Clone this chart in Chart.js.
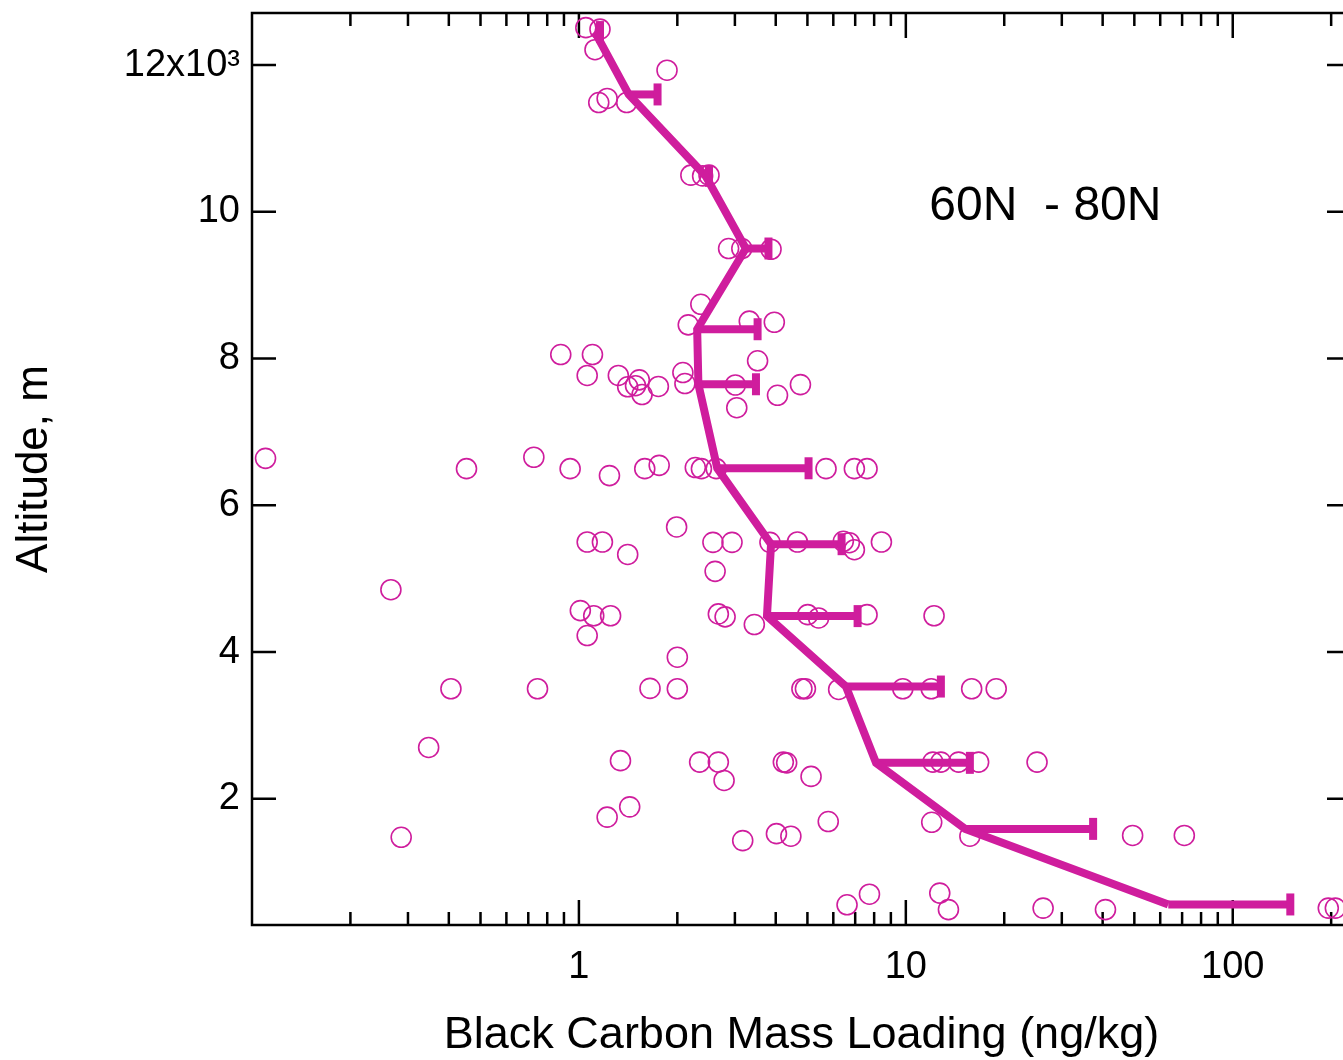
<!DOCTYPE html>
<html>
<head>
<meta charset="utf-8">
<title>Black Carbon 60N - 80N</title>
<script src="https://cdn.jsdelivr.net/npm/chart.js@4.4.1/dist/chart.umd.min.js"></script>
<style>
    html, body { margin: 0; padding: 0; background: #fff; overflow: hidden; }
    #wrap { width: 1365px; height: 1060px; }
</style>
</head>
<body>
<div id="wrap"><canvas id="grafico" width="1365" height="1060"></canvas></div>
<script>
// Individual samples: BC mass loading (ng/kg) and altitude (m)
const sampleBC = [
    1.05, 1.16, 1.12, 1.86, 1.15, 1.22, 1.40, 2.20, 2.39, 2.50, 2.87, 3.15, 3.87,
    2.36, 2.16, 3.32, 3.96, 3.52, 2.08, 2.11, 3.01, 4.05, 4.76, 3.04, 0.88, 1.10, 1.06, 1.32, 1.41, 1.49, 1.53, 1.56, 1.75,
    0.110, 0.453, 0.728, 0.94, 1.24, 1.59, 1.76, 2.27, 2.37, 2.63, 5.70, 6.96, 7.61,
    1.99, 1.06, 1.18, 1.41, 2.57, 2.94, 3.84, 4.66, 6.44, 6.72, 6.96, 8.42, 2.61,
    0.266, 1.01, 1.11, 1.25, 1.06, 2.67, 2.80, 3.44, 5.01, 5.41, 7.61, 12.2,
    2.00, 0.406, 0.747, 1.65, 2.00, 4.81, 4.93, 6.23, 9.79, 11.96, 15.9, 18.9,
    0.347, 1.34, 2.34, 2.67, 2.78, 4.22, 4.32, 5.13, 12.1, 12.8, 14.5, 16.7, 25.2,
    1.43, 1.22, 0.286, 3.17, 4.02, 4.45, 5.79, 12.0, 15.7, 49.4, 71.1,
    6.61, 7.74, 12.7, 13.5, 26.3, 40.8, 196, 206
];
const sampleAlt = [
    12510, 12490, 12210, 11930, 11490, 11545, 11490, 10500, 10490, 10500, 9500, 9500, 9490,
    8740, 8460, 8510, 8495, 7970, 7810, 7660, 7640, 7500, 7645, 7330, 8055, 8055, 7770, 7770, 7615, 7630, 7710, 7510, 7620,
    6640, 6500, 6655, 6500, 6405, 6500, 6545, 6515, 6500, 6500, 6500, 6500, 6500,
    5705, 5500, 5500, 5330, 5495, 5495, 5495, 5500, 5510, 5490, 5395, 5500, 5100,
    4850, 4565, 4495, 4495, 4225, 4520, 4480, 4375, 4510, 4465, 4510, 4495,
    3930, 3500, 3500, 3505, 3500, 3500, 3500, 3490, 3500, 3500, 3500, 3500,
    2700, 2520, 2500, 2500, 2250, 2500, 2490, 2305, 2500, 2500, 2500, 2500, 2500,
    1890, 1750, 1475, 1430, 1525, 1490, 1690, 1680, 1490, 1500, 1500,
    555, 700, 715, 490, 510, 490, 510, 510
];

// Mean profile per altitude bin, with upper end of the spread
const profileAlt   = [12450, 11600, 10490, 9500, 8400, 7650, 6505, 5470, 4490, 3530, 2490, 1590, 560];
const profileMean  = [1.12, 1.42, 2.44, 3.24, 2.30, 2.32, 2.65, 3.87, 3.76, 6.56, 8.11, 15.2, 63.5];
const profileUpper = [1.16, 1.74, 2.50, 3.80, 3.52, 3.48, 5.04, 6.36, 7.12, 12.8, 15.7, 37.4, 150];

// Axis ticks
const xMajorTicks = [1, 10, 100];
const xMinorTicks = [0.2, 0.3, 0.4, 0.5, 0.6, 0.7, 0.8, 0.9, 2, 3, 4, 5, 6, 7, 8, 9, 20, 30, 40, 50, 60, 70, 80, 90, 200];
const yTicks      = [2000, 4000, 6000, 8000, 10000, 12000];
const yTickLabels = ['2', '4', '6', '8', '10', '12x10³'];

const regionLabel = '60N  - 80N';

const COR   = '#cf1d9d';
const FONTE = '"Liberation Sans", Arial, sans-serif';

Chart.defaults.font.family = FONTE;
Chart.defaults.color = '#000';

// Frame with inward ticks on all four sides
const moldura = {
    id: 'moldura',
    beforeDatasetsDraw(chart) {
        const { ctx, chartArea: a, scales: { x, y } } = chart;
        ctx.save();
        ctx.strokeStyle = '#000';
        ctx.lineWidth = 2.5;
        ctx.beginPath();
        const marcaX = (v, len) => {
            const px = x.getPixelForValue(v);
            ctx.moveTo(px, a.bottom); ctx.lineTo(px, a.bottom - len);
            ctx.moveTo(px, a.top);    ctx.lineTo(px, a.top + len);
        };
        xMajorTicks.forEach(v => marcaX(v, 25));
        xMinorTicks.forEach(v => marcaX(v, 13));
        yTicks.forEach(v => {
            const py = y.getPixelForValue(v);
            ctx.moveTo(a.left, py);  ctx.lineTo(a.left + 24, py);
            ctx.moveTo(a.right, py); ctx.lineTo(a.right - 24, py);
        });
        ctx.stroke();
        ctx.strokeRect(a.left, a.top, a.right - a.left, a.bottom - a.top);
        ctx.restore();
    },
    afterDraw(chart) {
        const { ctx, scales: { x, y } } = chart;
        ctx.save();
        ctx.fillStyle = '#000';
        ctx.font = '48px ' + FONTE;
        ctx.textBaseline = 'alphabetic';
        ctx.fillText(regionLabel, x.getPixelForValue(11.8), y.getPixelForValue(9895));
        ctx.restore();
    }
};

const pontos = sampleBC.map((v, i) => ({ x: v, y: sampleAlt[i] }));
const perfil = profileMean.map((v, i) => ({ x: v, y: profileAlt[i] }));

// One small dataset per spread bar: horizontal line plus vertical cap
const barras = profileAlt.map((alt, i) => ({
    type: 'line',
    data: [{ x: profileMean[i], y: alt }, { x: profileUpper[i], y: alt }],
    borderColor: COR,
    backgroundColor: COR,
    borderWidth: 8,
    borderCapStyle: 'butt',
    pointStyle: 'line',
    pointRotation: 90,
    pointRadius: [0, 11],
    pointBorderWidth: 8,
    pointBorderColor: COR,
    clip: false
}));

new Chart(document.getElementById('grafico'), {
    data: {
        datasets: [
            {
                type: 'line',
                data: perfil,
                borderColor: COR,
                borderWidth: 8,
                borderJoinStyle: 'miter',
                borderCapStyle: 'butt',
                pointRadius: 0,
                tension: 0,
                clip: false
            },
            ...barras,
            {
                type: 'scatter',
                data: pontos,
                pointStyle: 'circle',
                pointRadius: 10,
                pointBorderWidth: 1.6,
                pointBorderColor: COR,
                pointBackgroundColor: 'rgba(0,0,0,0)',
                clip: false
            }
        ]
    },
    options: {
        responsive: false,
        animation: false,
        events: [],
        layout: { autoPadding: false, padding: { top: 13, right: 14, bottom: 0, left: 0 } },
        plugins: { legend: { display: false }, tooltip: { enabled: false } },
        scales: {
            x: {
                type: 'logarithmic',
                min: 0.1,
                max: 230,
                afterBuildTicks: s => {
                    s.ticks = xMinorTicks.concat(xMajorTicks).sort((a, b) => a - b).map(v => ({ value: v }));
                },
                afterFit: s => {
                    s.height = 135;
                    s.paddingLeft = 0;
                    s.paddingRight = 0;
                },
                grid: { display: false, drawTicks: false },
                border: { display: false },
                ticks: {
                    autoSkip: false,
                    maxRotation: 0,
                    padding: 20,
                    font: { size: 38 },
                    callback: v => xMajorTicks.includes(v) ? String(v) : ''
                },
                title: {
                    display: true,
                    text: 'Black Carbon Mass Loading (ng/kg)',
                    font: { size: 45, lineHeight: 1.1 },
                    padding: { top: 0, bottom: 0 }
                }
            },
            y: {
                type: 'linear',
                min: 280,
                max: 12710,
                afterBuildTicks: s => { s.ticks = yTicks.map(v => ({ value: v })); },
                afterFit: s => {
                    s.width = 252;
                    s.paddingTop = 0;
                    s.paddingBottom = 0;
                },
                grid: { display: false, drawTicks: false },
                border: { display: false },
                ticks: {
                    padding: 12,
                    font: { size: 38 },
                    callback: v => yTickLabels[yTicks.indexOf(v)]
                },
                title: {
                    display: true,
                    text: 'Altitude, m',
                    font: { size: 44, lineHeight: 1.1 },
                    padding: { top: 11, bottom: 0 }
                }
            }
        }
    },
    plugins: [moldura]
});
</script>
</body>
</html>
